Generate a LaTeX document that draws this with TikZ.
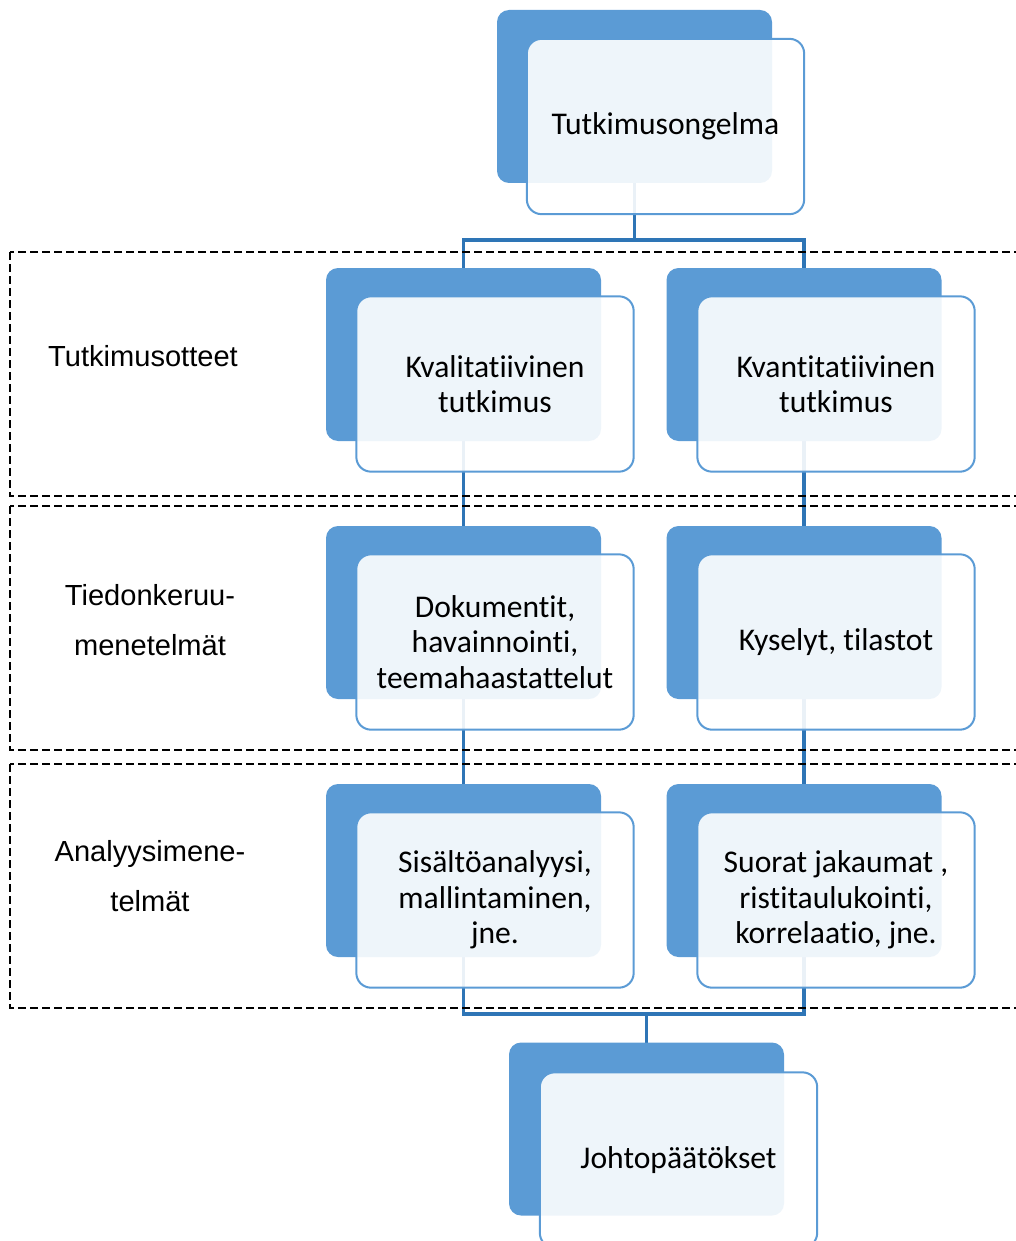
\documentclass[tikz,border=0pt]{standalone}
\usepackage{fontspec}
\setmainfont{Carlito}[Ligatures={NoCommon}]
\newfontfamily\labelfont{Liberation Sans}
\usetikzlibrary{calc}
\definecolor{darkblue}{HTML}{5B9BD5}
\definecolor{linkblue}{HTML}{2E75B6}
\pgfdeclarelayer{bg}
\pgfsetlayers{bg,main}
\tikzset{
  backbox/.style={draw=none, fill=darkblue, rounded corners=9pt,
    minimum width=206.25pt, minimum height=129.75pt, inner sep=0pt},
  frontbox/.style={draw=darkblue, line width=1.5pt, fill=white, fill opacity=0.9,
    text opacity=1, rounded corners=11pt,
    minimum width=208pt, minimum height=131.5pt, inner sep=0pt, align=center,
    font=\fontsize{23.7pt}{26.6pt}\selectfont},
  link/.style={draw=linkblue, line width=2.3pt},
  framebox/.style={draw=black, line width=1.8pt, dash pattern=on 6pt off 3pt},
  sidelabel/.style={align=center, font=\labelfont\fontsize{21.8pt}{38pt}\selectfont}
}
\begin{document}
\begin{tikzpicture}[x=0.75pt, y=-0.75pt]
\useasboundingbox (0,0) rectangle (1016,1241);
\clip (0,0) rectangle (1016,1241);

% top
\node[backbox] (topd) at (634.5,96.5) {};
\node[frontbox] (topf) at (665.5,126.5) {Tutkimusongelma};
% row 1
\node[backbox] (r1Ld) at (463.5,354.5) {};
\node[frontbox] (r1Lf) at (495,384) {Kvalitatiivinen\\tutkimus};
\node[backbox] (r1Rd) at (804,354.5) {};
\node[frontbox] (r1Rf) at (836,384) {Kvantitatiivinen\\tutkimus};
% row 2
\node[backbox] (r2Ld) at (463.5,612.5) {};
\node[frontbox] (r2Lf) at (495,642) {Dokumentit,\\havainnointi,\\teemahaastattelut};
\node[backbox] (r2Rd) at (804,612.5) {};
\node[frontbox] (r2Rf) at (836,642) {Kyselyt, tilastot};
% row 3
\node[backbox] (r3Ld) at (463.5,870.5) {};
\node[frontbox] (r3Lf) at (495,900) {Sisältöanalyysi,\\mallintaminen,\\jne.};
\node[backbox] (r3Rd) at (804,870.5) {};
\node[frontbox] (r3Rf) at (836,900) {Suorat jakaumat ,\\ristitaulukointi,\\korrelaatio, jne.};
% bottom
\node[backbox] (botd) at (646.5,1129) {};
\node[frontbox] (botf) at (678.5,1160) {Johtopäätökset};

\coordinate (j1) at (634.5,240);
\coordinate (j2) at (646.5,1014);

\begin{pgfonlayer}{bg}
  \draw[link] (topd.center) -- (j1);
  \draw[link] (j1) -| (r1Ld.center);
  \draw[link] (j1) -| (r1Rd.center);
  \draw[link] (r1Ld.center) -- (r2Ld.center) -- (r3Ld.center);
  \draw[link] (r1Rd.center) -- (r2Rd.center) -- (r3Rd.center);
  \draw[link] (r3Ld.center) |- (j2);
  \draw[link] (r3Rd.center) |- (j2);
  \draw[link] (j2) -- (botd.center);
\end{pgfonlayer}

% frames
\draw[framebox] (10,252) rectangle (1040,496);
\draw[framebox] (10,506) rectangle (1040,750);
\draw[framebox] (10,764) rectangle (1040,1008);

\node[sidelabel] (lab1) at (143,356) {Tutkimusotteet};
\node[sidelabel] (lab2) at (150,620) {Tiedonkeruu-\\menetelmät};
\node[sidelabel] (lab3) at (150,876) {Analyysimene-\\telmät};
\end{tikzpicture}
\end{document}
